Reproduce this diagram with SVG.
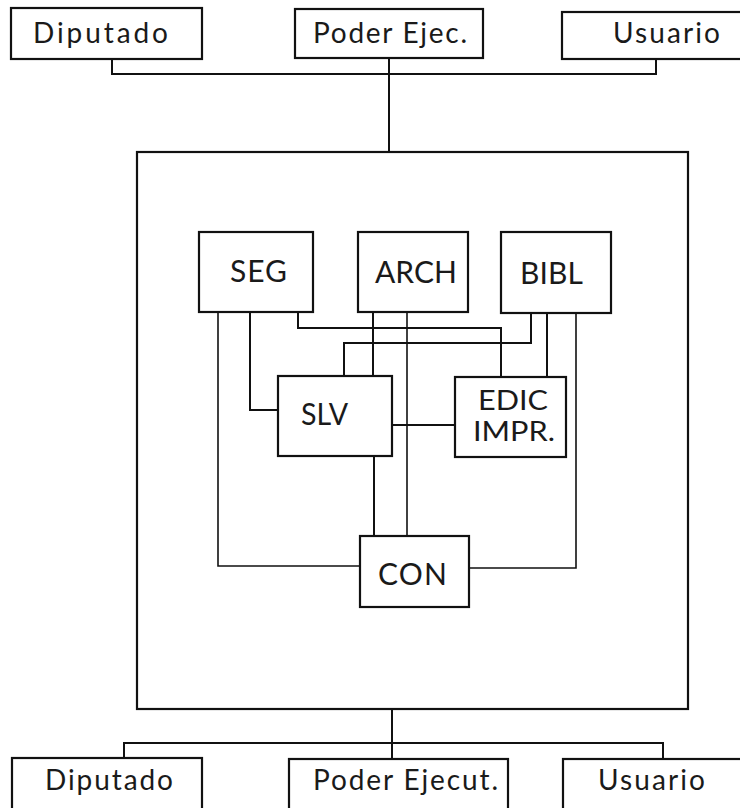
<svg xmlns="http://www.w3.org/2000/svg" width="740" height="808" viewBox="0 0 740 808">
<style>
.box{fill:#fff;stroke:#111;stroke-width:2.2}
.frame{fill:none;stroke:#111;stroke-width:2.2}
.ln{fill:none;stroke:#111;stroke-width:2}
.thin{fill:none;stroke:#111;stroke-width:1.6}
text{font-family:Lato,"Open Sans","Liberation Sans",sans-serif;font-weight:400;fill:#1a1a1a}
.t1{font-size:28px}
.t2{font-size:30px}
.t3{font-size:26px}
</style>
<rect width="740" height="808" fill="#fff"/>
<g id="connectors">
<path class="ln" d="M112,60 V74 H656 V60"/>
<path class="ln" d="M389,58 V152"/>
<path class="ln" d="M392,709 V759"/>
<path class="ln" d="M124,758 V743 H663 V759"/>
<path class="thin" d="M218,312 V566 H360"/>
<path class="ln" d="M250,312 V410 H278"/>
<path class="ln" d="M298,312 V328 H501 V377"/>
<path class="ln" d="M373,312 V376"/>
<path class="thin" d="M407,312 V536"/>
<path class="ln" d="M531,313 V343 H344 V376"/>
<path class="ln" d="M547,313 V377"/>
<path class="thin" d="M576,313 V568 H469"/>
<path class="ln" d="M392,425 H455"/>
<path class="ln" d="M374,456 V536"/>
</g>
<g id="sistema">
<rect class="frame" x="137" y="152" width="551" height="557"/>
</g>
<g id="diputado-top">
<rect class="box" x="11" y="8" width="191" height="51"/>
<text class="t1" x="33" y="43" textLength="135" lengthAdjust="spacing">Diputado</text>
</g>
<g id="poder-top">
<rect class="box" x="295" y="9" width="188" height="49"/>
<text class="t1" x="313" y="43" textLength="154" lengthAdjust="spacing">Poder Ejec.</text>
</g>
<g id="usuario-top">
<rect class="box" x="562" y="12" width="190" height="47"/>
<text class="t1" x="613" y="43" textLength="107" lengthAdjust="spacing">Usuario</text>
</g>
<g id="seg">
<rect class="box" x="199" y="232" width="114" height="80"/>
<text class="t2" x="230" y="282" textLength="57" lengthAdjust="spacing">SEG</text>
</g>
<g id="arch">
<rect class="box" x="358" y="232" width="110" height="80"/>
<text class="t2" x="375" y="283" textLength="82" lengthAdjust="spacing">ARCH</text>
</g>
<g id="bibl">
<rect class="box" x="501" y="232" width="110" height="81"/>
<text class="t2" x="520" y="284" textLength="63" lengthAdjust="spacing">BIBL</text>
</g>
<g id="slv">
<rect class="box" x="278" y="376" width="114" height="80"/>
<text class="t2" x="301" y="425" textLength="47" lengthAdjust="spacingAndGlyphs">SLV</text>
</g>
<g id="edic">
<rect class="box" x="455" y="377" width="111" height="80"/>
<text class="t3" x="478" y="410" textLength="70" lengthAdjust="spacingAndGlyphs">EDIC</text>
<text class="t3" x="473" y="441" textLength="82" lengthAdjust="spacingAndGlyphs">IMPR.</text>
</g>
<g id="con">
<rect class="box" x="360" y="536" width="109" height="71"/>
<text class="t2" x="378" y="585" textLength="69" lengthAdjust="spacing">CON</text>
</g>
<g id="diputado-bottom">
<rect class="box" x="12" y="758" width="190" height="60"/>
<text class="t1" x="45" y="790" textLength="128" lengthAdjust="spacing">Diputado</text>
</g>
<g id="poder-bottom">
<rect class="box" x="289" y="759" width="219" height="60"/>
<text class="t1" x="313" y="790" textLength="185" lengthAdjust="spacing">Poder Ejecut.</text>
</g>
<g id="usuario-bottom">
<rect class="box" x="563" y="759" width="190" height="60"/>
<text class="t1" x="598" y="790" textLength="107" lengthAdjust="spacing">Usuario</text>
</g>
</svg>
